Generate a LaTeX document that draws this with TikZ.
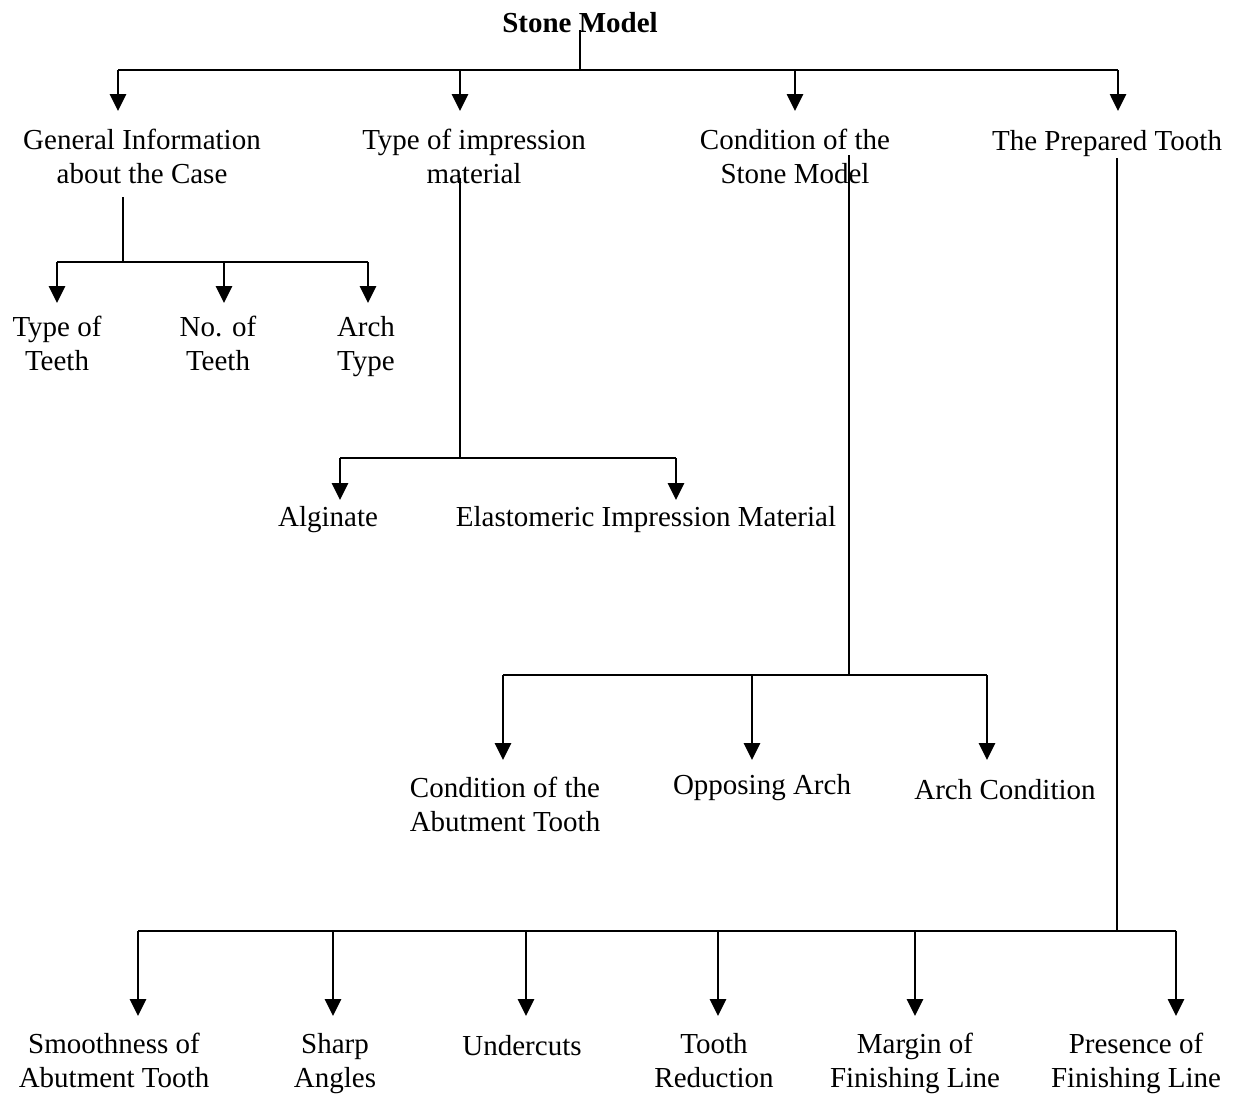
\documentclass[tikz,border=0pt]{standalone}
\usepackage{fontspec}
\setmainfont{Liberation Serif}
\usetikzlibrary{arrows.meta}
\begin{document}
\begin{tikzpicture}[x=1pt,y=-1pt,
  lbl/.style={font=\fontsize{29}{34}\selectfont, align=center, inner sep=0pt},
  plain/.style={line width=1.6pt},
  arr/.style={line width=2.7pt,-{Triangle[width=16pt,length=17pt]}}]
\useasboundingbox (0,0) rectangle (1236,1093);
% texts
\node[lbl,font=\fontsize{29}{34}\selectfont\bfseries] (root) at (580,26) {\strut Stone Model};
\node[lbl] (gen) at (142,160) {\strut General Information\\\strut about the Case};
\node[lbl] (imp) at (474,160) {\strut Type of impression\\\strut material};
\node[lbl] (cond) at (795,160) {\strut Condition of the\\\strut Stone Model};
\node[lbl] (prep) at (1107,144) {\strut The Prepared Tooth};
\node[lbl] (tt) at (57,347) {\strut Type of\\\strut Teeth};
\node[lbl] (nt) at (218,347) {\strut No. of\\\strut Teeth};
\node[lbl] (at) at (366,347) {\strut Arch\\\strut Type};
\node[lbl] (alg) at (328,520) {\strut Alginate};
\node[lbl] (ela) at (646,520) {\strut Elastomeric Impression Material};
\node[lbl] (cat) at (505,808) {\strut Condition of the\\\strut Abutment Tooth};
\node[lbl] (opp) at (762,788) {\strut Opposing Arch};
\node[lbl] (ac) at (1005,793) {\strut Arch Condition};
\node[lbl] (sm) at (114,1064) {\strut Smoothness of\\\strut Abutment Tooth};
\node[lbl] (sa) at (335,1064) {\strut Sharp\\\strut Angles};
\node[lbl] (und) at (522,1049) {\strut Undercuts};
\node[lbl] (tr) at (714,1064) {\strut Tooth\\\strut Reduction};
\node[lbl] (mf) at (915,1064) {\strut Margin of\\\strut Finishing Line};
\node[lbl] (pf) at (1136,1064) {\strut Presence of\\\strut Finishing Line};
% coordinates: top level
\coordinate (r0) at (580,30);
\coordinate (r1) at (580,70);
\coordinate (rL) at (118,70);
\coordinate (rR) at (1118,70);
\coordinate (rB) at (460,70);
\coordinate (rC) at (795,70);
\coordinate (tgen) at (118,111);
\coordinate (timp) at (460,111);
\coordinate (tcond) at (795,111);
\coordinate (tprep) at (1118,111);
\draw[plain] (r0) -- (r1);
\draw[plain] (rL) -- (rR);
\draw[arr] (rL) -- (tgen);
\draw[arr] (rB) -- (timp);
\draw[arr] (rC) -- (tcond);
\draw[arr] (rR) -- (tprep);
% general
\coordinate (g0) at (123,197);
\coordinate (g1) at (123,262);
\coordinate (gL) at (57,262);
\coordinate (gM) at (224,262);
\coordinate (gR) at (368,262);
\coordinate (ttt) at (57,303);
\coordinate (tnt) at (224,303);
\coordinate (tat) at (368,303);
\draw[plain] (g0) -- (g1);
\draw[plain] (gL) -- (gR);
\draw[arr] (gL) -- (ttt);
\draw[arr] (gM) -- (tnt);
\draw[arr] (gR) -- (tat);
% impression
\coordinate (i0) at (460,178);
\coordinate (i1) at (460,458);
\coordinate (iL) at (340,458);
\coordinate (iR) at (676,458);
\coordinate (talg) at (340,500);
\coordinate (tela) at (676,500);
\draw[plain] (i0) -- (i1);
\draw[plain] (iL) -- (iR);
\draw[arr] (iL) -- (talg);
\draw[arr] (iR) -- (tela);
% condition
\coordinate (c0) at (849,155);
\coordinate (c1) at (849,675);
\coordinate (cL) at (503,675);
\coordinate (cM) at (752,675);
\coordinate (cR) at (987,675);
\coordinate (tcat) at (503,760);
\coordinate (topp) at (752,760);
\coordinate (tac) at (987,760);
\draw[plain] (c0) -- (c1);
\draw[plain] (cL) -- (cR);
\draw[arr] (cL) -- (tcat);
\draw[arr] (cM) -- (topp);
\draw[arr] (cR) -- (tac);
% prepared tooth
\coordinate (p0) at (1117,158);
\coordinate (p1) at (1117,931);
\coordinate (pA) at (138,931);
\coordinate (pB) at (333,931);
\coordinate (pC) at (526,931);
\coordinate (pD) at (718,931);
\coordinate (pE) at (915,931);
\coordinate (pF) at (1176,931);
\coordinate (tsm) at (138,1016);
\coordinate (tsa) at (333,1016);
\coordinate (tund) at (526,1016);
\coordinate (ttr) at (718,1016);
\coordinate (tmf) at (915,1016);
\coordinate (tpf) at (1176,1016);
\draw[plain] (p0) -- (p1);
\draw[plain] (pA) -- (pF);
\draw[arr] (pA) -- (tsm);
\draw[arr] (pB) -- (tsa);
\draw[arr] (pC) -- (tund);
\draw[arr] (pD) -- (ttr);
\draw[arr] (pE) -- (tmf);
\draw[arr] (pF) -- (tpf);
\end{tikzpicture}
\end{document}
